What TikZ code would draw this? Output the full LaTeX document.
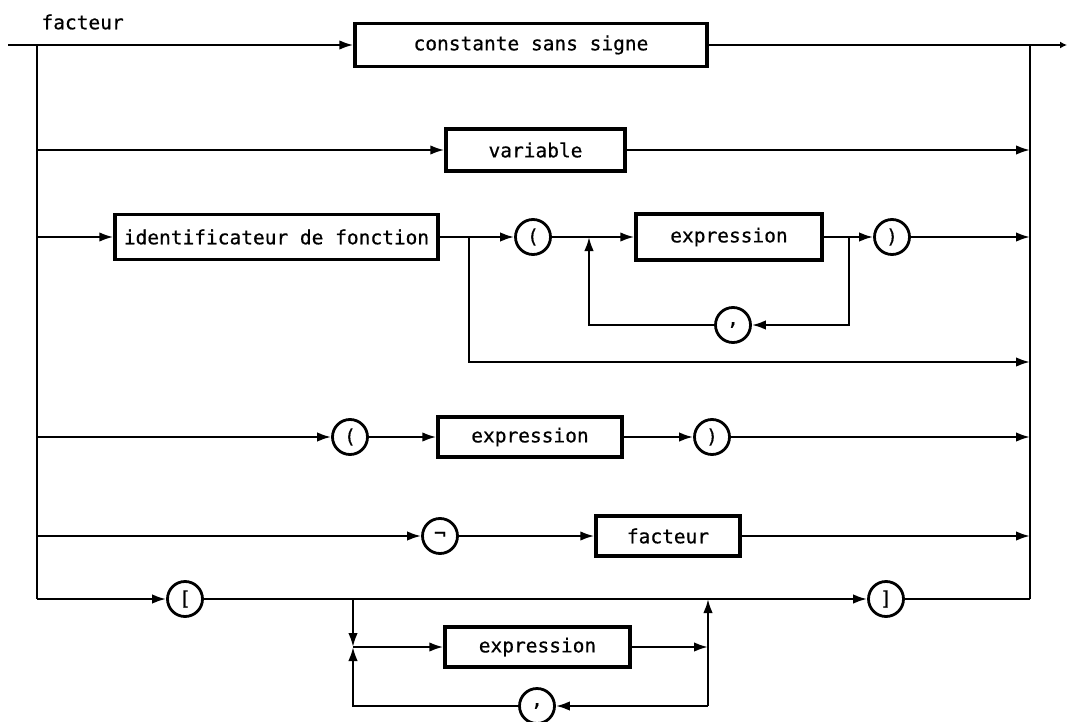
\documentclass[tikz,border=0pt]{standalone}
\usepackage{fontspec}
\setmainfont{DejaVu Sans Mono}[BoldFont=DejaVu Sans Mono,BoldFeatures={FakeBold=0.6}]
\usetikzlibrary{arrows.meta}
\begin{document}
\begin{tikzpicture}[x=1pt,y=-1pt,
  font=\fontsize{19.5}{22}\selectfont\bfseries,
  conn/.style={line width=2.2pt},
  arr/.style={conn,-{Latex[length=14pt,width=9.5pt]}},
  box/.style={draw,line width=3.4pt,inner sep=0pt,minimum height=42pt},
  term/.style={draw,circle,line width=2.8pt,inner sep=0pt,minimum size=35pt},
]
\useasboundingbox (0,0) rectangle (1070,722);

% title of the rule
\node[anchor=west] (lbl) at (38,22) {facteur};

% boxes (non-terminals) and circles (terminals)
\node[box,minimum width=352pt,minimum height=43pt] (c1) at (531,45) {constante sans signe};
\node[box,minimum width=179pt] (var) at (535.5,150) {variable};
\node[box,minimum width=323pt,minimum height=45pt] (idf) at (276.5,237) {identificateur de fonction};
\node[term] (lp1) at (533,237) {(};
\node[box,minimum width=186pt,minimum height=46pt] (ex1) at (729,237) {expression};
\node[term] (rp1) at (892,237) {)};
\node[term] (cm1) at (733,325) {,};
\node[term] (lp2) at (350,437) {(};
\node[box,minimum width=184pt,minimum height=40pt] (ex2) at (530,437) {expression};
\node[term] (rp2) at (712,437) {)};
\node[term] (neg) at (440,536) {¬};
\node[box,minimum width=144pt,minimum height=40pt] (fac) at (668,536) {facteur};
\node[term] (lb) at (185,599) {[};
\node[term] (rb) at (886,599) {]};
\node[box,minimum width=185pt,minimum height=40pt] (ex3) at (537.5,647) {expression};
\node[term] (cm2) at (537,706) {,};

% junction points
\coordinate (in) at (8,45);    \coordinate (out) at (1067,45);
\coordinate (L1) at (37,45);   \coordinate (R1) at (1030,45);
\coordinate (L2) at (37,150);  \coordinate (R2) at (1030,150);
\coordinate (L3) at (37,237);  \coordinate (R3) at (1030,237);
\coordinate (R3b) at (1030,362);
\coordinate (L4) at (37,437);  \coordinate (R4) at (1030,437);
\coordinate (L5) at (37,536);  \coordinate (R5) at (1030,536);
\coordinate (L6) at (37,599);  \coordinate (R6) at (1030,599);
\coordinate (j1) at (469,237);
\coordinate (j2) at (589,237);
\coordinate (j3) at (849,237);
\coordinate (jA) at (353,599);
\coordinate (jB) at (353,647);
\coordinate (jC) at (708,647);
\coordinate (jD) at (708,599);
\coordinate (jE) at (708,706);

% main line and the two rails
\draw[arr] (in) -- (c1);
\draw[conn,-{Latex[length=7pt,width=7pt]}] (c1) -- (out);
\draw[conn] (L1) -- (L6);
\draw[conn] (R1) -- (R6);

% unsigned constant / variable
\draw[arr] (L2) -- (var);
\draw[arr] (var) -- (R2);

% function designator with parameter list
\draw[arr] (L3) -- (idf);
\draw[conn] (idf) -- (j1);
\draw[arr] (j1) -- (lp1);
\draw[conn] (lp1) -- (j2);
\draw[arr] (j2) -- (ex1);
\draw[conn] (ex1) -- (j3);
\draw[arr] (j3) -- (rp1);
\draw[arr] (rp1) -- (R3);
\draw[arr] (j3) |- (cm1);
\draw[arr] (cm1) -| (j2);
\draw[arr] (j1) |- (R3b);

% parenthesised expression
\draw[arr] (L4) -- (lp2);
\draw[arr] (lp2) -- (ex2);
\draw[arr] (ex2) -- (rp2);
\draw[arr] (rp2) -- (R4);

% negation
\draw[arr] (L5) -- (neg);
\draw[arr] (neg) -- (fac);
\draw[arr] (fac) -- (R5);

% set constructor
\draw[arr] (L6) -- (lb);
\draw[arr] (lb) -- (rb);
\draw[conn] (rb) -- (R6);
\draw[arr] (jA) -- (jB);
\draw[arr] (jB) -- (ex3);
\draw[arr] (ex3) -- (jC);
\draw[arr] (jE) -- (jD);
\draw[arr] (jE) -- (cm2);
\draw[arr] (cm2) -| (jB);
\end{tikzpicture}
\end{document}
